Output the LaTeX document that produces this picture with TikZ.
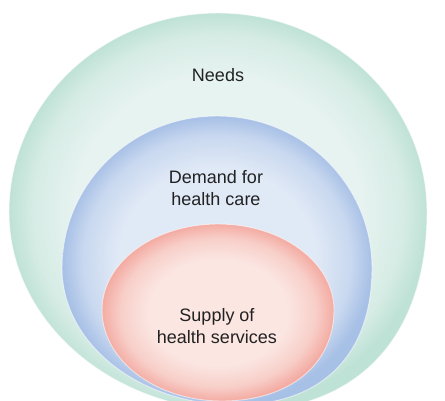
\documentclass[tikz,border=0pt]{standalone}
\usepackage{fontspec}
\setmainfont{Liberation Sans}
\definecolor{gout}{HTML}{BFE2D6}
\definecolor{gin}{HTML}{E7F3F0}
\colorlet{gmid}{gout!40!gin}
\definecolor{bout}{HTML}{A7C0E6}
\definecolor{bin}{HTML}{E0E9F6}
\colorlet{bmid}{bout!40!bin}
\definecolor{rout}{HTML}{F3ACA3}
\definecolor{rin}{HTML}{FBE6E2}
\colorlet{rmid}{rout!40!rin}
\definecolor{txt}{HTML}{222222}
\pgfdeclareradialshading{glowG}{\pgfpoint{0bp}{0bp}}{color(0bp)=(gin);color(17bp)=(gin);color(22bp)=(gmid);color(25bp)=(gout);color(50bp)=(gout)}
\pgfdeclareradialshading{glowB}{\pgfpoint{0bp}{0bp}}{color(0bp)=(bin);color(16bp)=(bin);color(21.5bp)=(bmid);color(25bp)=(bout);color(50bp)=(bout)}
\pgfdeclareradialshading{glowR}{\pgfpoint{0bp}{0bp}}{color(0bp)=(rin);color(15bp)=(rin);color(21bp)=(rmid);color(25bp)=(rout);color(50bp)=(rout)}
\tikzset{
  lbl/.style={font=\fontsize{13.5}{16}\selectfont, text=txt, align=center, inner sep=0pt},
  rim/.style={draw=white, draw opacity=0.55, line width=0.7pt},
}
\begin{document}
\begin{tikzpicture}[x=0.75pt, y=-0.75pt]
\useasboundingbox (0,0) rectangle (445,400);
\fill[white] (0,0) rectangle (445,400);
\begin{scope}
\clip (0,0) rectangle (445,400);
% Needs (outer, green)
\shade[shading=glowG, rim]
  (9,212) .. controls (9,102.1) and (102.6,13) .. (218,13)
  .. controls (333.4,13) and (427,102.1) .. (427,212)
  .. controls (427,335) and (360,411) .. (240,411)
  .. controls (112.4,411) and (9,321.9) .. (9,212) -- cycle;
% Demand (middle, blue)
\shade[shading=glowB, rim]
  (62,268) .. controls (62,184.1) and (131.4,116) .. (217,116)
  .. controls (302.6,116) and (372,184.1) .. (372,268)
  .. controls (372,355) and (322,405) .. (235,405)
  .. controls (139.5,405) and (62,343.7) .. (62,268) -- cycle;
% Supply (inner, red)
\shade[shading=glowR, rim]
  (102,310) .. controls (102,262.5) and (153.9,224) .. (218,224)
  .. controls (282.1,224) and (334,262.5) .. (334,310)
  .. controls (334,364) and (290,401) .. (222,401)
  .. controls (155.7,401) and (102,360.3) .. (102,310) -- cycle;
\end{scope}
\node[lbl] (needs) at (218,75) {Needs};
\node[lbl] (demand) at (216,188) {Demand for\\health care};
\node[lbl] (supply) at (217,326) {Supply of\\health services};
\end{tikzpicture}
\end{document}
